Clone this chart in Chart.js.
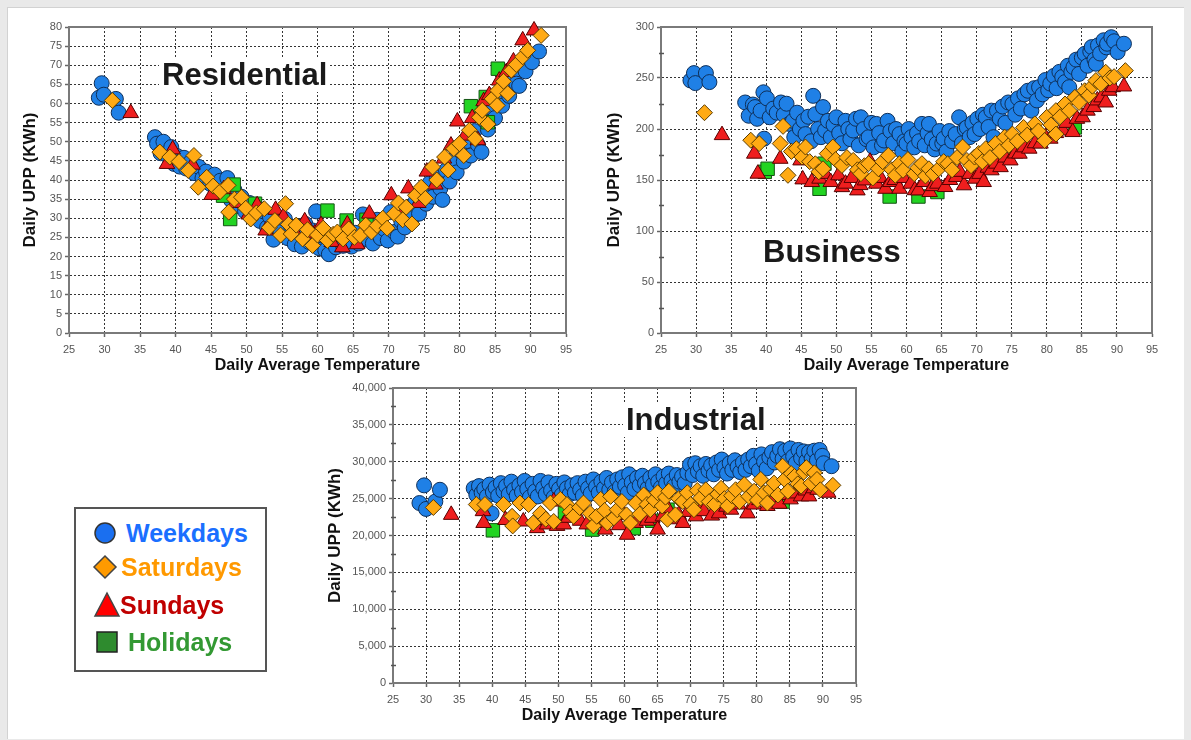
<!DOCTYPE html>
<html>
<head>
<meta charset="utf-8">
<script src="https://cdn.jsdelivr.net/npm/chart.js@4.4.1/dist/chart.umd.min.js"></script>
<style>
  html, body { margin: 0; padding: 0; }
  body { width: 1191px; height: 740px; background: #e9e9e9; position: relative; overflow: hidden;
         font-family: "Liberation Sans", Arial, sans-serif; }
  #frame { position: absolute; left: 7px; top: 7px; width: 1176px; height: 731px; background: #fff;
           border-left: 1px solid #d2d2d2; border-top: 1px solid #d2d2d2; }
  canvas { position: absolute; }
  .ptitle { position: absolute; font-weight: bold; font-size: 31px; line-height: 34px; color: #1a1a1a;
            background: #fff; padding: 0 3px; white-space: nowrap; }
  #legend { position: absolute; left: 74px; top: 507px; width: 189px; height: 161px;
            border: 2px solid #555; background: #fff; }
  .item { position: absolute; font-weight: bold; font-size: 25px; line-height: 30px; white-space: nowrap; }
  svg.mk { position: absolute; overflow: visible; }
</style>
</head>
<body>
<div id="frame"></div>

<canvas id="resChart" width="590" height="385" style="left:0px;top:0px"></canvas>
<canvas id="busChart" width="590" height="385" style="left:592px;top:0px"></canvas>
<canvas id="indChart" width="560" height="360" style="left:320px;top:375px"></canvas>

<div class="ptitle" style="left:159px;top:58px">Residential</div>
<div class="ptitle" style="left:760px;top:235px">Business</div>
<div class="ptitle" style="left:623px;top:403px">Industrial</div>

<div id="legend"></div>
<svg class="mk" style="left:0;top:0" width="1" height="1">
  <circle cx="105" cy="533" r="10" fill="#1a6ff0" stroke="#333" stroke-width="1.5"/>
  <polygon points="105,556 116,567 105,578 94,567" fill="#ff9a00" stroke="#444" stroke-width="1.5"/>
  <polygon points="107,593 119,616 95,616" fill="#ff0000" stroke="#444" stroke-width="1.5"/>
  <rect x="97" y="632" width="20" height="20" fill="#2e8b2e" stroke="#222" stroke-width="1.5"/>
</svg>
<div class="item" style="left:126px;top:518px;color:#1a6fff">Weekdays</div>
<div class="item" style="left:121px;top:552px;color:#ff9900">Saturdays</div>
<div class="item" style="left:120px;top:590px;color:#c00000">Sundays</div>
<div class="item" style="left:128px;top:627px;color:#339933">Holidays</div>

<script>
// temperature axis shared by all three panels
const tempMin = 25;
const tempMax = 95;
const tempStep = 5;

// Residential (kWh)
const resWeekdays = [[29.2,61.5],[29.6,65.3],[29.9,62.3],[31.6,61.2],[32,57.6],
  [37.1,51.2],[37.4,49.5],[37.9,47],[38.3,50],[38.8,46.5],[39.4,48.6],[39.8,44.2],[40.2,46.3],[40.6,43.5],
  [41.2,45.8],[41.5,43],[42.1,44.6],[42.6,41.8],[43.3,43.4],[43.8,40.5],[44.3,42.2],[44.9,39],[45.5,41.4],
  [45.9,37.5],[46.3,39.8],[46.9,36.2],[47.3,40.5],[47.8,34.8],[48.3,37.4],[48.8,33.2],[49.3,35.6],[49.8,31.8],
  [50.4,34],[50.8,30.4],[51.3,33.2],[51.9,29.3],[52.4,31.8],[52.9,27.6],[53.3,30.4],[53.8,24.4],[54.3,28.8],
  [54.8,26.4],[55.4,29.8],[55.8,24.8],[56.3,27.8],[56.8,23.2],[57.3,26.5],[57.8,22.6],[58.3,28.5],[58.8,23.8],
  [59.3,26.8],[59.8,31.8],[60.2,22.2],[60.6,25.5],[61.1,21.6],[61.6,20.6],[62.1,23.8],[62.6,22.4],[63.1,25.6],
  [63.6,22.8],[64.2,24.6],[64.8,22.6],[65.3,26.2],[65.8,23.4],[66.4,31],[66.8,24.6],[67.3,27.4],[67.8,23.4],
  [68.4,29.6],[68.9,24.8],[69.4,27.2],[69.9,24.2],[70.3,31.6],[70.8,26.4],[71.3,25.2],[71.8,29.2],[72.3,27.6],
  [72.8,32.5],[73.3,30],[73.8,34.4],[74.3,31.2],[74.8,36.5],[75.3,33.8],[75.8,39.2],[76.3,35.6],[76.8,40.6],
  [77.3,37.8],[77.6,34.8],[78.1,42.5],[78.6,39.6],[79.1,45.2],[79.6,42],[80.1,47.6],[80.6,44.8],[81.1,50.2],
  [81.6,46.4],[82.1,52.8],[82.6,49.2],[83.1,47.3],[83.5,55.6],[84,53.2],[84.5,58.8],[85,56.2],[85.5,61.8],
  [86,59.4],[86.5,64.6],[87,62],[87.5,67.2],[88,65.2],[88.4,64.6],[88.8,70.2],[89.3,68.4],[89.8,72.8],
  [90.2,70.8],[91.2,73.6]];
const resSaturdays = [[31.1,60.8],[37.8,47.3],[39.2,46],[40.5,44.8],[41.8,42.5],[42.6,46.4],[43.2,38.1],
  [44.4,40.7],[45.3,38.4],[46.3,37],[47.4,38.6],[47.5,31.6],[48.3,35],[49.3,35.5],[49.9,32.6],[50.6,29.8],
  [51.4,31.4],[52.5,32.5],[53.2,27.6],[54,29.4],[54.8,25.6],[55.5,33.8],[55.9,28.4],[56.3,25.9],[57,28.2],
  [57.9,24.6],[58.6,27],[59.3,22.9],[60,25.6],[60.8,27.4],[61.4,24.2],[62.2,25.8],[62.8,26.4],[63.6,24.6],
  [64.4,27.2],[65.2,25],[66,25.5],[66.8,28.2],[67.6,26.4],[68.4,28.1],[69.2,30],[69.8,27.4],[70.8,31.2],
  [71.4,34],[72,29.6],[72.5,32.9],[73.3,28.5],[73.8,36],[74.6,38.1],[75.2,35.2],[76.2,43.4],[76.8,40],
  [77.9,46],[78.4,42.6],[79.2,48.2],[80,49.5],[80.6,46.4],[81.4,53],[82.2,50.8],[82.8,56.4],[83.2,58.2],
  [84,54.6],[84.6,61.2],[85.3,59.5],[85.4,63.4],[86.2,65.8],[86.8,62.6],[87.3,68.7],[88,70.2],[88.9,72.2],
  [89.6,73.9],[91.5,77.8]];
const resSundays = [[33.7,57.5],[38.8,44.2],[39.6,48],[42.4,44],[45.1,36.1],[46.8,37.6],[48.4,34],[50.3,31],
  [51.5,33.4],[52.7,26.8],[54.1,32.2],[55.2,30.4],[56.6,27],[58.2,29.2],[59.6,26],[60.5,28.2],[62,23.8],
  [63.5,22.4],[64.2,28.4],[65.6,23.2],[67.3,31.2],[69.2,28],[70.4,36],[71.6,32.6],[72.8,37.8],[74.2,34],
  [75.4,42.2],[76.6,38.8],[77.8,45.6],[78.8,49],[79.7,55.3],[80.8,51.6],[81.8,56.2],[82.6,50.4],[83.4,60.6],
  [84.2,62.2],[85.6,66],[86.6,68.2],[87.6,71],[88.9,76.5],[90.5,79.1]];
const resHolidays = [[46.7,35.9],[47.7,29.8],[48.2,38.8],[51.2,33.8],[61.4,32],[64.1,29.4],[66.9,29.6],
  [81.6,59.3],[83.7,61.7],[84,55.1],[85.4,69.1]];

// Business (kWh)
const busWeekdays = [[29.2,247.6],[29.7,254.8],[29.9,245],[31.4,254.8],[31.9,246],
  [37,226],[37.5,213],[38.1,224],[38.4,221.5],[38.7,210],[39.2,218],[39.6,236],[39.7,190.5],[40.1,230],
  [40.5,211.5],[41,220],[41.5,216],[42.1,226],[42.5,214],[42.9,224.8],[43.3,205],[43.8,208],[44,192],
  [44.4,216],[44.8,200],[45.3,208],[45.6,195],[46,212],[46.4,188],[46.7,232.5],[47,214.5],[47.4,200],
  [47.8,192],[48.1,221.5],[48.4,198.5],[48.8,208],[49.2,192],[49.6,204],[50,211.5],[50.4,196],[50.8,186],
  [51.3,208],[51.7,200],[52,190],[52.4,198.5],[52.8,210],[53.2,184],[53.5,211.5],[53.9,200],[54.3,190],
  [54.6,192],[55,206],[55.3,182],[55.7,205],[56.1,196],[56.5,184],[56.8,188.7],[57.3,208],[57.7,198],
  [58.1,186],[58.5,200],[59,195],[59.4,178],[59.7,188],[60,185.7],[60.3,200],[60.7,192],[61.1,182],
  [61.5,196],[61.8,188],[62.2,205],[62.6,184],[63,196],[63.2,205],[63.6,190],[64,180],[64.3,185.7],
  [64.7,198],[65.1,186],[65.3,190.5],[65.7,178],[66.1,198],[66.5,188],[67,195],[67.5,211.5],[67.9,186],
  [68.3,200],[68.6,201.5],[69,192],[69.4,206],[69.7,195],[70.1,210],[70.5,200],[70.9,214],[71.3,211.5],
  [71.7,202],[72.1,218],[72.4,192],[72.9,218],[73.3,210],[73.7,222],[74.1,206],[74.5,226],[75.1,224.5],
  [75.5,214],[75.9,230],[76.3,220],[76.8,234],[77.3,237.5],[77.8,218],[78.2,240],[78.6,228],[78.9,241],
  [79.4,234],[79.8,248],[80.2,238],[80.5,244.5],[81,252],[81.4,240],[81.8,256],[82.2,251],[82.6,246],
  [83,262],[83.2,241],[83.5,256],[83.8,260.7],[84.2,268],[84.6,254],[85,270],[85.4,273.7],[85.8,262],
  [86.2,276],[86.4,280.3],[86.8,268],[87,264],[87.3,282],[87.6,274],[88.1,287],[88.5,280],[88.6,283.6],
  [89.2,290],[89.6,286],[90.1,275.4],[91,283.6]];
const busSaturdays = [[31.2,216],[37.8,189],[39,185.7],[42,185.7],[42.4,202.6],[43.1,154.6],[43.6,178],
  [44.3,180.7],[45.1,172.5],[45.6,182.3],[46.2,168],[47,165.9],[47.5,158],[48.1,161],[48.7,175.8],[49.5,182.3],
  [49.9,170],[50.8,164.3],[51.5,172],[52.4,169.2],[53,160],[53.5,156.2],[54,164],[54.6,166],[55.2,152],
  [56,161],[56.6,168],[57.4,174.1],[57.9,160],[58.4,154.6],[59,166],[59.5,159.5],[60.2,170],[61.1,156.2],
  [61.6,162],[62.2,166],[62.7,154],[63.2,161],[63.8,156],[64.6,161],[65.3,168],[65.9,166],[66.5,160],
  [67.2,172],[68,182.3],[68.6,169.2],[69.2,164],[69.7,172.5],[70.3,176],[70.8,168],[71.3,180.7],[71.9,172],
  [72.7,185.7],[73.3,178],[74,192],[74.6,184],[75.1,195],[75.8,188],[76.7,201.5],[77.2,194],[78.3,205],
  [78.8,198],[79.7,188.7],[80,211.5],[80.6,204],[81.3,218],[81.3,195],[81.9,212],[82.6,224.5],[83.2,218],
  [84,231],[84.6,226],[85.4,237.5],[86,233],[86.5,242],[87,247.5],[87.7,244],[88.4,255.6],[89,250],
  [89.6,251.3],[91.2,257.2]];
const busSundays = [[33.7,194],[38.3,175.8],[38.8,156.2],[42,170.8],[44.9,169.2],[45.2,150.6],[46.5,148],
  [47.6,151.3],[48.4,156],[49.2,148],[50.3,154.6],[50.8,143],[51.3,146.4],[52.2,152],[53,139.8],[53.4,145],
  [54.1,149.6],[54.8,168],[55.7,146.4],[56.3,152],[57,141.4],[57.7,148],[58.3,150],[59,141.4],[59.6,152],
  [60.6,146.4],[61.2,140],[61.7,139.8],[62.5,148],[63.3,138.2],[63.8,144],[64.4,146.4],[65.5,143.1],
  [66.2,150],[67.1,153],[67.6,158],[68.2,144.8],[69,156],[69.8,151.3],[70.4,156],[71,148],[71.6,162],
  [72.1,159.5],[72.8,166],[73.4,162.6],[74.1,172],[74.8,169.2],[75.5,176],[76.1,175.8],[76.8,182],
  [77.5,180.7],[78.3,186],[79.1,185.7],[79.8,192],[80.5,190.5],[81.3,196],[82.3,198.5],[82.8,206],
  [83.7,197],[84.3,210],[85.1,211.5],[85.8,218],[86.7,221.5],[87.2,228],[87.8,231],[88.4,226],[88.9,237.5],
  [89.4,241],[91,241.7]];
const busHolidays = [[39.8,158],[40.2,161],[47.6,141.4],[48.3,166],[57.6,133.8],[61.7,133.8],[64.4,138.2],
  [84,201.6]];

// Industrial (kWh)
const indWeekdays = [[29,24400],[29.7,26800],[30,23600],[31.4,24600],[32.1,26200],[39.9,23000],
  [37.2,26400],[37.6,25500],[38,26700],[38.4,25800],[38.8,26300],[39.2,25300],[39.6,26900],[40.1,25900],
  [40.5,26500],[40.9,25400],[41.3,27100],[41.7,26000],[42.1,26700],[42.5,25600],[42.9,27300],[43.3,26200],
  [43.7,25400],[44.1,26800],[44.5,25900],[44.9,27400],[45.3,26300],[45.7,25200],[46.1,27000],[46.5,26000],
  [46.9,25300],[47.3,27400],[47.7,26400],[48.1,25600],[48.5,27200],[48.9,26100],[49.3,25200],[49.7,27000],
  [50.1,26300],[50.5,25500],[50.9,27200],[51.3,26400],[51.7,25600],[52.1,26800],[52.5,25800],[52.9,27100],
  [53.3,26200],[53.7,25400],[54.1,27300],[54.5,26400],[54.9,25700],[55.3,27600],[55.7,26600],[56.1,25800],
  [56.5,27300],[56.9,26400],[57.3,27800],[57.7,26200],[58.1,27200],[58.5,25900],[58.9,27600],[59.3,26600],
  [59.7,27900],[60.1,26800],[60.5,25800],[60.7,28300],[61.1,27200],[61.5,26300],[61.9,27800],[62.3,26800],
  [62.7,28100],[63.1,27100],[63.5,26400],[63.9,27800],[64.3,26900],[64.7,28300],[65.1,27300],[65.5,26500],
  [65.9,28000],[66.3,27100],[66.7,28400],[67.1,27400],[67.5,26700],[67.9,28200],[68.3,27300],[68.7,28000],
  [69.1,27100],[69.5,28500],[69.9,29600],[70.3,28200],[70.7,29800],[71.1,28700],[71.5,29400],[71.9,28100],
  [72.3,29700],[72.7,28800],[73.1,29500],[73.5,28300],[73.9,29900],[74.3,28900],[74.7,30300],[75.1,29200],
  [75.5,28400],[75.9,29800],[76.3,28900],[76.7,30200],[77.1,29300],[77.5,28600],[77.9,29900],[78.3,28900],
  [78.7,30300],[79.1,29400],[79.5,30800],[79.9,29700],[80.3,28800],[80.7,31000],[81.1,30000],[81.5,29100],
  [81.9,30600],[82.3,31300],[82.7,29900],[83.1,30800],[83.5,31700],[83.9,30400],[84.3,31500],[84.7,30100],
  [85.1,31800],[85.5,30700],[85.9,29800],[86.3,31600],[86.7,30500],[87.1,31400],[87.5,30100],[87.9,31300],
  [88.3,30400],[88.7,31500],[89.1,30200],[89.5,31600],[89.9,30800],[90.1,29800],[91.3,29400]];
const indSaturdays = [[31.1,23800],[37.6,24200],[38.9,24200],[41.7,24200],[43,22600],[43.1,21300],[44.2,24400],
  [45.5,24200],[46.2,21700],[47.3,23000],[48.1,22200],[48.8,24400],[49.3,21900],[50.3,24900],[51.3,24200],
  [51.8,23200],[52.3,22600],[53.2,23800],[53.8,24400],[54.8,23000],[55.3,21300],[55.8,22600],[56.4,24900],
  [57,23400],[57.4,21700],[57.9,25300],[58.4,22400],[58.9,23500],[59.6,24600],[60.3,22800],[60.9,21700],
  [61.7,24400],[62.3,22900],[62.9,25500],[63.4,24200],[63.9,23500],[64.5,24800],[65,25800],[65.7,24000],
  [66.2,25200],[66.7,26000],[66.5,22200],[67.7,22800],[68.2,25000],[68.8,24600],[69.5,25800],[70,24200],
  [70.5,23500],[71,26100],[71.5,25100],[72.3,26200],[72.8,24600],[73.6,24200],[74.1,25600],[74.6,26400],
  [75.1,25000],[75.6,24000],[76.2,25400],[76.8,26200],[77.4,24600],[78.1,26900],[78.8,25300],[79.6,26000],
  [80.1,24800],[80.6,27600],[81.1,25800],[81.6,24400],[82.1,26300],[82.6,27100],[83.2,25500],[83.9,29400],
  [84.2,27600],[84.7,26000],[85.2,28400],[85.7,28000],[86.2,27000],[86.7,26700],[87.1,28600],[87.5,29200],
  [88.2,27100],[88.7,28500],[89.1,27600],[89.6,26200],[91.5,26800]];
const indSundays = [[33.8,22800],[38.6,23300],[38.7,21700],[42,22100],[44.7,21900],[46.8,21000],[47.6,22100],
  [48.3,21500],[49.3,24600],[49.8,21300],[50.8,21500],[51.5,22400],[52.3,23000],[53.3,22000],[54.3,21500],
  [55.8,21700],[56.5,22800],[57.1,20800],[58.4,22400],[59.2,21400],[59.9,22800],[60.4,20100],[61.7,21700],
  [62.7,25100],[63.4,22000],[64.2,22400],[65,20800],[65.8,22600],[66.5,23700],[67.5,22200],[68.2,22800],
  [68.8,21700],[69.6,23200],[70.8,22600],[71.6,23600],[72,23300],[73.2,22700],[74.3,23000],[75.4,23900],
  [76.1,23500],[77.2,24200],[78.6,23000],[79.6,24200],[80.4,24800],[81.6,24000],[82.6,25100],[83.4,24300],
  [84.2,25500],[85.1,24900],[85.8,25700],[86.7,25300],[87.4,26100],[87.9,25300],[88.6,26400],[89.2,26200],
  [90.8,25800]];
const indHolidays = [[40.1,20700],[51,23000],[55.1,20800],[61.4,21000],[64.2,22000],[66.5,23500],[83.9,24600]];

const FONT = '"Liberation Sans", Arial, sans-serif';

// grey box round each plot area
const framePlugin = {
  id: 'frame',
  beforeDatasetsDraw(chart) {
    const a = chart.chartArea, c = chart.ctx;
    c.save();
    c.strokeStyle = '#7a7a7a';
    c.lineWidth = 2;
    c.strokeRect(a.left, a.top, a.right - a.left, a.bottom - a.top);
    c.restore();
  }
};

// small minor tick marks on the value axis
const minorTicks = {
  id: 'minorTicks',
  beforeDatasetsDraw(chart, args, opts) {
    if (!opts.step) return;
    const y = chart.scales.y, c = chart.ctx, a = chart.chartArea;
    c.save();
    c.strokeStyle = '#555';
    c.lineWidth = 1.5;
    for (let v = opts.step; v < y.max; v += opts.step * 2) {
      const py = Math.round(y.getPixelForValue(v)) + 0.5;
      c.beginPath();
      c.moveTo(a.left - 2, py);
      c.lineTo(a.left + 3, py);
      c.stroke();
    }
    c.restore();
  }
};

function pts(arr) {
  return arr.map(p => ({ x: p[0], y: p[1] }));
}

function ds(label, data, style, r, fill, edge, order) {
  return {
    label: label, data: pts(data), order: order,
    pointStyle: style, pointRadius: r, pointBackgroundColor: fill,
    pointBorderColor: edge, pointBorderWidth: 1, clip: false
  };
}

function makeChart(id, o) {
  return new Chart(document.getElementById(id), {
    type: 'scatter',
    data: {
      datasets: [
        ds('Saturdays', o.sat, 'rectRot', 8, '#ffaa14', '#5a3c00', 0),
        ds('Sundays', o.sun, 'triangle', 9, '#ef1e1e', '#560000', 1),
        ds('Holidays', o.hol, 'rect', 9.5, '#22d422', '#145214', 2),
        ds('Weekdays', o.wk, 'circle', 7.5, '#1f80e6', '#0f2f58', 3)
      ]
    },
    options: {
      responsive: false,
      animation: false,
      devicePixelRatio: 1,
      layout: { padding: o.pad },
      plugins: {
        legend: { display: false },
        tooltip: { enabled: false },
        minorTicks: { step: o.minor }
      },
      scales: {
        x: {
          type: 'linear', min: tempMin, max: tempMax,
          afterFit: s => { s.height = o.xh; },
          ticks: { stepSize: tempStep, color: '#555', font: { family: FONT, size: 11 }, padding: 6,
                   maxRotation: 0, autoSkip: false },
          grid: { color: '#333', lineWidth: 1, tickLength: 4, tickColor: '#666', tickWidth: 1.5 },
          border: { display: true, color: '#7a7a7a', width: 2, dash: [2, 2] },
          title: { display: true, text: 'Daily Average Temperature', color: '#111',
                   font: { family: FONT, size: 16, weight: 'bold' }, padding: { top: 0, bottom: 10 } }
        },
        y: {
          type: 'linear', min: 0, max: o.ymax,
          afterFit: s => { s.width = o.yw; },
          ticks: { stepSize: o.ystep, color: '#555', font: { family: FONT, size: 11 }, padding: 3,
                   autoSkip: false, callback: v => v.toLocaleString('en-US') },
          grid: { color: '#333', lineWidth: 1, tickLength: 4, tickColor: '#666', tickWidth: 1.5 },
          border: { display: true, color: '#7a7a7a', width: 2, dash: [2, 2] },
          title: { display: true, text: 'Daily UPP (KWh)', color: '#111',
                   font: { family: FONT, size: 17, weight: 'bold' }, padding: { top: o.yt, bottom: 0 } }
        }
      }
    },
    plugins: [framePlugin, minorTicks]
  });
}

makeChart('resChart', {
  wk: resWeekdays, sat: resSaturdays, sun: resSundays, hol: resHolidays,
  ymax: 80, ystep: 5, minor: 0, yw: 69, xh: 52, yt: 20,
  pad: { left: 0, top: 27, right: 24, bottom: 0 }
});
makeChart('busChart', {
  wk: busWeekdays, sat: busSaturdays, sun: busSundays, hol: busHolidays,
  ymax: 300, ystep: 50, minor: 25, yw: 69, xh: 52, yt: 12,
  pad: { left: 0, top: 27, right: 30, bottom: 0 }
});
makeChart('indChart', {
  wk: indWeekdays, sat: indSaturdays, sun: indSundays, hol: indHolidays,
  ymax: 40000, ystep: 5000, minor: 2500, yw: 73, xh: 52, yt: 5,
  pad: { left: 0, top: 13, right: 24, bottom: 0 }
});
</script>
</body>
</html>
